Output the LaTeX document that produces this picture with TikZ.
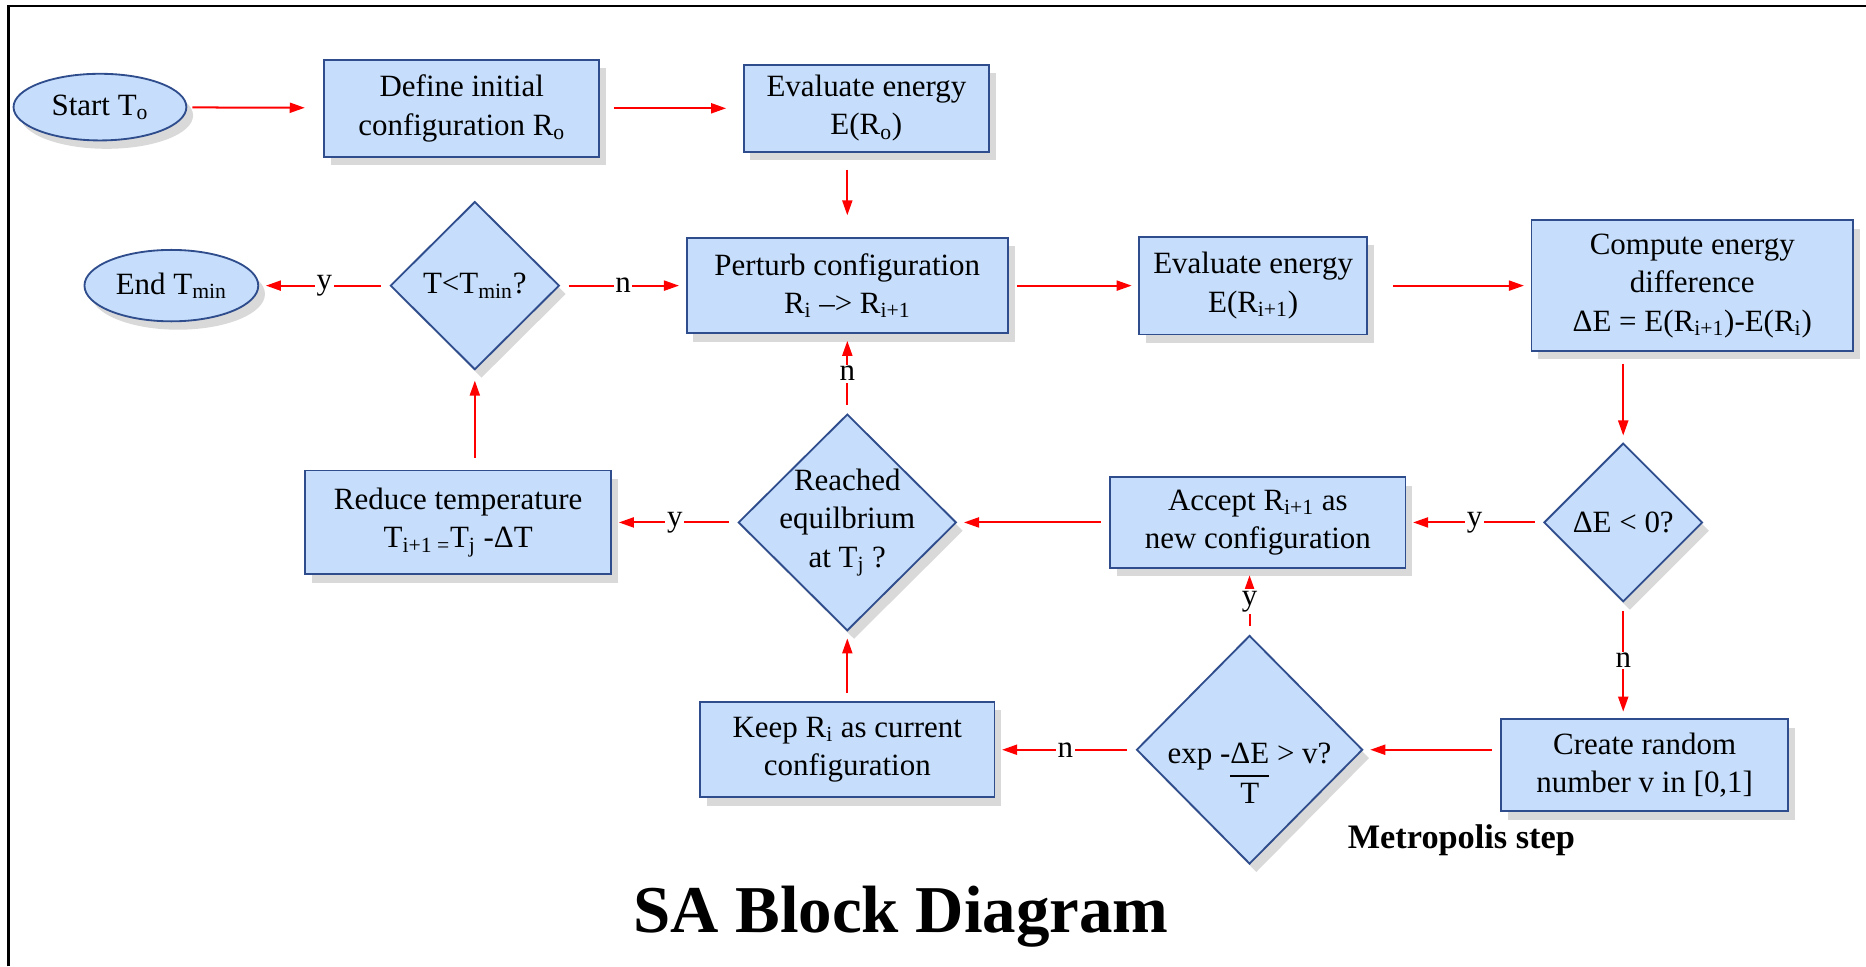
\documentclass[tikz,border=0pt]{standalone}
\usepackage{fontspec}
\setmainfont{Liberation Serif}
\usepackage{tikz}
\usetikzlibrary{shapes.geometric,shadows,arrows.meta}

\definecolor{boxfill}{RGB}{198,222,251}
\definecolor{boxline}{RGB}{47,77,140}
\definecolor{shade}{RGB}{217,217,217}

\begin{document}
\begin{tikzpicture}[x=0.025cm,y=-0.025cm,
    font=\fontsize{18.5}{23}\selectfont,
    block/.style={draw=boxline,fill=boxfill,line width=1.1pt,align=center,
      drop shadow={shadow xshift=4pt,shadow yshift=-5pt,fill=shade,opacity=1}},
    box/.style={block,rectangle,inner sep=2pt},
    oval/.style={block,ellipse,inner sep=0pt},
    decision/.style={block,diamond,inner sep=-8pt},
    flow/.style={-{Triangle[length=9pt,width=6pt]},red,line width=1.2pt,
      shorten <=5pt,shorten >=4pt},
    answer/.style={fill=white,text=black,inner sep=1pt}]
    \useasboundingbox (0,0) rectangle (1568,812);
    \draw[line width=1.5pt] (7,812) -- (7,5) -- (1568,5);

    \node[oval,minimum width=3.63cm,minimum height=1.4cm] (start) at (84,90) {Start T\textsubscript{o}};
    \node[box,minimum width=5.78cm,minimum height=2.03cm] (define) at (388,91) {Define initial\\configuration R\textsubscript{o}};
    \node[box,minimum width=5.15cm,minimum height=1.83cm] (energy0) at (728,91) {Evaluate energy\\E(R\textsubscript{o})};

    \node[oval,minimum width=3.65cm,minimum height=1.5cm] (finish) at (144,240) {End T\textsubscript{min}};
    \node[decision,minimum width=3.55cm,minimum height=3.53cm] (cool) at (399,240) {T<T\textsubscript{min}?};
    \node[box,minimum width=6.75cm,minimum height=2cm] (perturb) at (712,240) {Perturb configuration\\R\textsubscript{i} --> R\textsubscript{i+1}};
    \node[box,minimum width=4.78cm,minimum height=2.05cm] (energy1) at (1053,240) {Evaluate energy\\E(R\textsubscript{i+1})};
    \node[box,minimum width=6.75cm,minimum height=2.75cm] (diff) at (1422,240) {Compute energy\\difference\\ΔE = E(R\textsubscript{i+1})-E(R\textsubscript{i})};

    \node[box,minimum width=6.43cm,minimum height=2.18cm] (reduce) at (385,439) {Reduce temperature\\T\textsubscript{i+1 =}T\textsubscript{j} -ΔT};
    \node[decision,minimum width=4.58cm,minimum height=4.55cm] (equil) at (712,439) {Reached\\equilbrium\\at T\textsubscript{j} ?};
    \node[box,minimum width=6.2cm,minimum height=1.9cm] (accept) at (1057,439) {Accept R\textsubscript{i+1} as\\new configuration};
    \node[decision,minimum width=3.33cm,minimum height=3.33cm] (downhill) at (1364,439) {ΔE < 0?};

    \node[box,minimum width=6.18cm,minimum height=2cm] (keep) at (712,630) {Keep R\textsubscript{i} as current\\configuration};
    \node[decision,minimum width=4.75cm,minimum height=4.8cm,text depth=0pt] (metro) at (1050,630)
      {exp -{\setlength{\arrayrulewidth}{1.2pt}\begin{tabular}[t]{@{}c@{}}ΔE\\\hline T\end{tabular}} > v?};
    \node[box,minimum width=6.03cm,minimum height=1.93cm] (random) at (1382,643) {Create random\\number v in [0,1]};

    \node[font=\fontsize{20.5}{24}\selectfont\bfseries] (steplabel) at (1228,706) {Metropolis step};
    \node[font=\fontsize{40}{48}\selectfont\bfseries] (title) at (757,770) {SA Block Diagram};

    \path[flow,shorten <=3pt,shorten >=11pt] (start) edge (define);
    \path[flow,shorten <=8pt,shorten >=10pt] (define) edge (energy0);
    \path[flow,shorten <=10pt,shorten >=13pt] (energy0.south -| perturb) edge (perturb);
    \path[flow] (perturb) edge (energy1);
    \path[flow,shorten <=15pt] (energy1) edge (diff);
    \path[flow,shorten <=7pt] (diff.south -| downhill) edge (downhill);
    \path[flow] (downhill) edge node[answer] {y} (accept);
    \path[flow] (downhill) edge node[answer] {n} (random.north -| downhill);
    \path[flow] (random.west |- metro) edge (metro);
    \path[flow] (metro) edge node[answer] {y} (accept.south -| metro);
    \path[flow] (metro) edge node[answer] {n} (keep);
    \path[flow] (keep) edge (equil);
    \path[flow] (accept) edge (equil);
    \path[flow] (equil) edge node[answer] {n} (perturb);
    \path[flow] (equil) edge node[answer] {y} (reduce);
    \path[flow,shorten <=7pt,shorten >=6pt] (reduce.north -| cool) edge (cool);
    \path[flow] (cool) edge node[answer] {n} (perturb);
    \path[flow] (cool) edge node[answer] {y} (finish);
  \end{tikzpicture}
\end{document}
